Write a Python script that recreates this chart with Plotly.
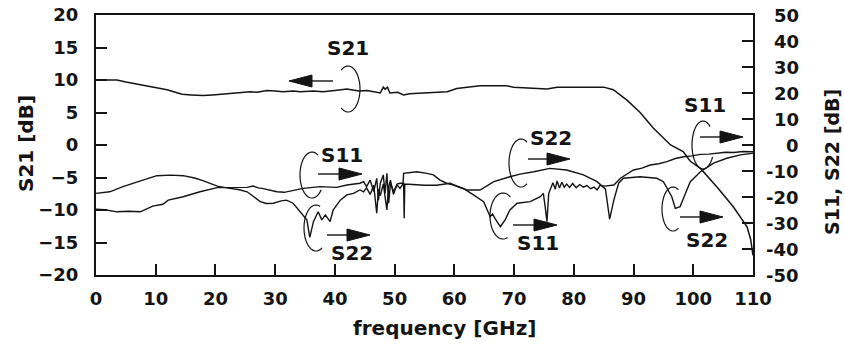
import math
import plotly.graph_objects as go

# S21 (left axis, dB)
freq_s21 = [0, 2, 3.5, 5, 6.2, 8, 9.6, 11.9, 13, 14.4,
            16, 17.9, 19.5, 20.8, 23, 25.8, 27, 28.6, 30, 31.3,
            33, 34.2, 36.4, 38, 40, 42, 44, 45.4, 47.6, 48.1,
            48.4, 48.8, 49.2, 50.5, 51.5, 52.5, 54.8, 57, 58.8, 60.4,
            62, 64.3, 66, 68.8, 69.9, 72, 74, 75.5, 77.2, 79.9,
            82, 85, 86.6, 88.9, 91.1, 93.3, 96.2, 98.3, 99.5, 101.2,
            104, 106.7, 109, 109.6, 110]
s21 = [10.0, 10.0, 10.0, 9.7, 9.5, 9.2, 8.9, 8.5, 8.2, 7.8,
       7.7, 7.6, 7.7, 7.8, 8.0, 8.2, 8.1, 8.4, 8.3, 8.2,
       8.3, 8.2, 8.3, 8.2, 8.4, 8.6, 8.3, 8.4, 8.0, 8.9,
       8.6, 8.9, 8.0, 8.1, 7.7, 7.9, 8.0, 8.1, 8.2, 8.7,
       8.9, 9.1, 9.1, 9.1, 8.9, 8.8, 8.6, 8.6, 8.9, 8.9,
       8.8, 8.9, 8.5, 6.9, 5.0, 2.6, 0.0, -1.0, -2.5, -3.6,
       -6.5, -9.5, -12.6, -14.5, -17.0]

# S11 (right axis, dB)
freq_s11 = [0, 1.5, 3.5, 5.5, 7.4, 8.5, 9.5, 11.2, 12.1, 14.6,
            17.4, 20.3, 22.4, 25.3, 26.3, 27.2, 28, 29.1, 30.3, 31.5,
            33, 34.7, 37.5, 40.3, 42, 44.2, 44.8, 45.3, 45.9, 46.5,
            47.0, 47.3, 47.6, 48.1, 48.4, 48.7, 49.0, 49.3, 49.8, 50.4,
            50.9, 51.2, 51.4, 51.5, 53.7, 55.4, 56.5, 57.6, 58.7, 59.9,
            61.5, 63.2, 64.9, 66.0, 66.4, 66.8, 67.7, 68.5, 69.3, 70.5,
            72.7, 74.4, 74.9, 75.2, 75.5, 75.8, 76.0, 76.5, 76.9, 77.2,
            77.6, 78.0, 78.4, 78.8, 79.3, 79.8, 80.4, 81.0, 81.6, 82.2,
            82.8, 83.4, 83.9, 84.4, 85.2, 86.7, 87.8, 89.0, 90.0, 91.4,
            92.8, 94.2, 95.6, 97.0, 98.4, 99.8, 101.2, 102.6, 104, 105.4,
            106.8, 108.3, 110]
s11 = [-24.7, -24.9, -25.7, -25.5, -25.7, -24.5, -23.5, -22.8, -21.2, -19.9,
       -18.0, -16.4, -16.4, -16.3, -15.8, -16.5, -16.8, -17.3, -18.0, -18.2,
       -17.6, -16.7, -16.0, -16.3, -15.4, -14.7, -14.1, -16.0, -13.5, -17.9,
       -12.8, -21.2, -14.7, -11.5, -18.6, -10.9, -22.4, -14.7, -17.9, -15.4,
       -16.7, -15.4, -15.0, -10.9, -10.3, -10.9, -11.5, -13.5, -14.7, -15.4,
       -16.7, -19.2, -21.8, -27.6, -26.5, -28.2, -31.4, -28.8, -25.0, -22.4,
       -21.8, -19.9, -18.6, -23.7, -29.5, -18.6, -17.3, -14.5, -17.0, -13.8,
       -16.5, -14.3, -16.2, -15.0, -16.3, -14.8, -16.4, -15.2, -16.2, -15.6,
       -16.8, -16.2, -17.3, -15.5, -15.8, -15.4, -12.8, -11.0, -9.6, -8.9,
       -7.7, -7.2, -6.4, -5.2, -4.5, -4.2, -3.6, -3.5, -3.2, -2.8,
       -2.9, -2.5, -2.6]

# S22 (right axis, dB)
freq_s22 = [0, 2.3, 4.5, 6.9, 8.5, 10.2, 12.5, 14.6, 16.5, 17.9,
            20.3, 22.4, 24, 25.3, 26.5, 27.5, 28.5, 29.7, 31, 31.9,
            33, 34.2, 35.3, 35.8, 36.4, 37.2, 37.8, 38.4, 39.2, 39.7,
            40.9, 42, 43.1, 44.2, 44.8, 45.3, 45.9, 46.5, 47.0, 47.3,
            47.6, 48.1, 48.4, 48.7, 49.0, 49.3, 49.8, 50.4, 50.9, 51.5,
            51.6, 51.7, 53, 55, 57, 58.5, 59.3, 60.5, 62.1, 64.3,
            66.6, 69.3, 71, 73.3, 76, 78.8, 81.6, 83.9, 85.3, 86.0,
            86.7, 87.5, 88.3, 91.1, 93.9, 95.0, 95.6, 96.4, 97.0, 97.8,
            98.7, 99.5, 101.2, 103.4, 105.6, 107.9, 109.8, 110]
s22 = [-18.6, -18.0, -16.0, -14.1, -13.0, -11.8, -11.6, -11.8, -12.7, -13.7,
       -15.8, -16.7, -17.2, -18.0, -20.0, -21.8, -22.5, -22.4, -21.5, -21.2,
       -22.4, -25.7, -28.8, -35.5, -29.5, -25.7, -28.8, -26.9, -29.5, -25.0,
       -21.2, -19.2, -18.6, -17.3, -18.0, -16.5, -19.0, -15.5, -26.2, -17.0,
       -19.5, -15.0, -20.5, -25.0, -16.0, -13.5, -19.0, -15.0, -14.7, -14.7,
       -28.2, -15.0, -15.2, -15.5, -15.5, -15.0, -14.7, -16.0, -17.3, -17.3,
       -14.1, -12.2, -11.2, -10.3, -9.0, -9.6, -11.5, -14.1, -17.0, -28.5,
       -21.2, -14.7, -12.8, -12.2, -12.8, -14.1, -16.7, -19.9, -24.4, -23.7,
       -18.6, -14.1, -10.3, -7.0, -5.1, -3.8, -3.2, -3.1]

INK = "#141414"
FONT = "DejaVu Sans"

# plot area of the picture, in pixels (used only to place the hand-drawn callouts)
X0, X1, Y0, Y1 = 96, 753, 15, 275


def gx(px):
    return (px - X0) / (X1 - X0) * 110


def gy(py):
    return 20 - (py - Y0) / (Y1 - Y0) * 40


fig = go.Figure()

fig.add_trace(go.Scatter(x=freq_s21, y=s21, mode='lines', name='S21',
                         line=dict(color=INK, width=1.5)))
fig.add_trace(go.Scatter(x=freq_s11, y=s11, mode='lines', name='S11', yaxis='y2',
                         line=dict(color=INK, width=1.4)))
fig.add_trace(go.Scatter(x=freq_s22, y=s22, mode='lines', name='S22', yaxis='y2',
                         line=dict(color=INK, width=1.4)))

shapes = []
annotations = []


def arrow(tail, tip, y):
    d = 1 if tip > tail else -1
    base = tip - d * 23
    shapes.append(dict(type='line', xref='x', yref='y',
                       x0=gx(tail), x1=gx(base), y0=gy(y), y1=gy(y),
                       line=dict(color=INK, width=1.4)))
    path = "M {:.3f},{:.3f} L {:.3f},{:.3f} L {:.3f},{:.3f} Z".format(
        gx(tip), gy(y), gx(base), gy(y - 6), gx(base), gy(y + 6))
    shapes.append(dict(type='path', xref='x', yref='y', path=path,
                       fillcolor=INK, line=dict(color=INK, width=1)))


def loop(cx, cy, rx, ry, a0, a1):
    pts = []
    n = 40
    for i in range(n + 1):
        a = math.radians(a0 + (a1 - a0) * i / n)
        pts.append((gx(cx + rx * math.cos(a)), gy(cy + ry * math.sin(a))))
    path = "M " + " L ".join("{:.3f},{:.3f}".format(p[0], p[1]) for p in pts)
    shapes.append(dict(type='path', xref='x', yref='y', path=path,
                       line=dict(color=INK, width=1.2)))


def label(txt, px, py):
    annotations.append(dict(text=txt, x=gx(px), y=gy(py), xref='x', yref='y',
                            showarrow=False, xanchor='center', yanchor='middle',
                            font=dict(family=FONT, size=20, color=INK, weight='bold')))


# S21 callout
label("S21", 348, 48)
arrow(333, 289, 81)
loop(348, 89, 12, 23, -125, 125)
# S11 near 35 GHz
label("S11", 342, 155)
arrow(318, 362, 174)
loop(312, 175, 12, 23, -60, -320)
# S22 near 36 GHz
label("S22", 352, 253)
arrow(327, 370, 235)
loop(316, 228, 12, 23, -70, -300)
# S22 near 72 GHz
label("S22", 551, 138)
arrow(528, 570, 159)
loop(521, 163, 12, 24, -60, -300)
# S11 near 68 GHz
label("S11", 538, 243)
arrow(513, 557, 225)
loop(503, 216, 13, 23, -55, -290)
# S11 near 102 GHz
label("S11", 705, 105)
arrow(700, 743, 137)
loop(703, 145, 11, 24, -50, -330)
# S22 near 97 GHz
label("S22", 707, 240)
arrow(680, 723, 217)
loop(673, 209, 11, 22, -60, -300)

# right axis tick labels, right aligned like the original
right_ticks = [50, 40, 30, 20, 10, 0, -10, -20, -30, -40, -50]
for t in right_ticks:
    annotations.append(dict(text=str(t), x=(801 - X0) / (X1 - X0), y=t,
                            xref='paper', yref='y2', showarrow=False,
                            xanchor='right', yanchor='middle',
                            font=dict(family=FONT, size=18, color=INK, weight='bold')))

# axis titles
annotations.append(dict(text="frequency [GHz]", x=(444 - X0) / (X1 - X0), y=(Y1 - 328) / (Y1 - Y0),
                        xref='paper', yref='paper', showarrow=False,
                        xanchor='center', yanchor='middle',
                        font=dict(family=FONT, size=20, color=INK, weight='bold')))
annotations.append(dict(text="S21 [dB]", x=(26 - X0) / (X1 - X0), y=(Y1 - 144) / (Y1 - Y0),
                        xref='paper', yref='paper', showarrow=False, textangle=-90,
                        xanchor='center', yanchor='middle',
                        font=dict(family=FONT, size=20, color=INK, weight='bold')))
annotations.append(dict(text="S11, S22 [dB]", x=(832 - X0) / (X1 - X0), y=(Y1 - 162) / (Y1 - Y0),
                        xref='paper', yref='paper', showarrow=False, textangle=-90,
                        xanchor='center', yanchor='middle',
                        font=dict(family=FONT, size=19, color=INK, weight='bold')))

fig.update_layout(
    width=844, height=345,
    margin=dict(l=X0, r=844 - X1, t=Y0, b=345 - Y1, autoexpand=False),
    plot_bgcolor='white', paper_bgcolor='white',
    showlegend=False,
    font=dict(family=FONT, size=18, color=INK, weight='bold'),
    xaxis=dict(
        range=[0, 110], tickmode='linear', tick0=0, dtick=10,
        ticks='inside', ticklen=11, tickwidth=1.8, tickcolor=INK,
        showline=True, linewidth=2, linecolor=INK, mirror=True,
        showgrid=False, zeroline=False, ticklabelstandoff=6, automargin=False,
        tickfont=dict(family=FONT, size=18, color=INK, weight='bold')
    ),
    yaxis=dict(
        range=[-20, 20], tickmode='linear', tick0=-20, dtick=5,
        ticks='inside', ticklen=11, tickwidth=1.8, tickcolor=INK,
        showline=True, linewidth=2, linecolor=INK,
        showgrid=False, zeroline=False, ticklabelstandoff=12, automargin=False,
        tickfont=dict(family=FONT, size=18, color=INK, weight='bold')
    ),
    yaxis2=dict(
        range=[-50, 50], tickmode='linear', tick0=-50, dtick=10,
        overlaying='y', side='right',
        ticks='inside', ticklen=11, tickwidth=1.8, tickcolor=INK,
        showline=True, linewidth=2, linecolor=INK,
        showgrid=False, zeroline=False, showticklabels=False, automargin=False
    ),
    shapes=shapes,
    annotations=annotations
)

fig.write_html("out.html", config={'displayModeBar': False},
               post_script="document.body.style.margin='0px';")
